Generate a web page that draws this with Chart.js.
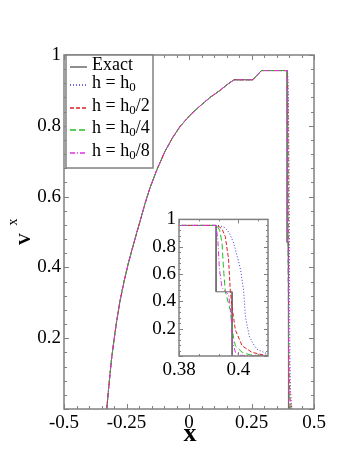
<!DOCTYPE html>
<html>
<head>
<meta charset="utf-8">
<script src="https://cdn.jsdelivr.net/npm/chart.js@4"></script>
<style>
  body { margin: 0; background: #fff; }
  #wrap { position: relative; width: 358px; height: 463px; }
  #inset { position: absolute; left: 140px; top: 205px; }
</style>
</head>
<body>
<div id="wrap">
  <canvas id="chart" width="358" height="463"></canvas>
  <canvas id="inset" width="135" height="175"></canvas>
</div>
<script>
// rarefaction fan + plateaus, shared by every run
const rareX = [-0.329, -0.32, -0.31, -0.30, -0.29, -0.276, -0.26, -0.245, -0.23, -0.215, -0.196, -0.176, -0.156, -0.126, -0.096, -0.066, -0.036, 0.004, 0.044, 0.084, 0.124, 0.152, 0.18, 0.255, 0.29, 0.3922];
const rareV = [0, 0.07, 0.14, 0.195, 0.245, 0.305, 0.36, 0.405, 0.445, 0.483, 0.53, 0.58, 0.625, 0.68, 0.728, 0.766, 0.798, 0.83, 0.856, 0.88, 0.9, 0.916, 0.93, 0.93, 0.956, 0.956];

// shock region, one pair per run
const exactX = [0.3925, 0.3925, 0.3979, 0.3979];
const exactV = [0.956, 0.47, 0.47, 0];
const h1X = [0.3935, 0.3955, 0.397, 0.3984, 0.3995, 0.4007, 0.4018, 0.4024, 0.4037, 0.405, 0.4063, 0.4097, 0.412];
const h1V = [0.955, 0.94, 0.9, 0.828, 0.74, 0.64, 0.475, 0.286, 0.145, 0.09, 0.05, 0.015, 0];
const h2X = [0.393, 0.3945, 0.3956, 0.3967, 0.3973, 0.3979, 0.399, 0.4013, 0.4046, 0.408, 0.411];
const h2V = [0.955, 0.93, 0.875, 0.71, 0.475, 0.357, 0.19, 0.074, 0.027, 0.01, 0];
const h4X = [0.3928, 0.3937, 0.3945, 0.395, 0.3956, 0.3973, 0.3981, 0.399, 0.4013, 0.404, 0.411];
const h4V = [0.955, 0.92, 0.828, 0.64, 0.475, 0.333, 0.168, 0.074, 0.027, 0.008, 0];
const h8X = [0.3925, 0.3931, 0.3936, 0.3945, 0.3967, 0.3976, 0.3979, 0.399, 0.4005, 0.411];
const h8V = [0.955, 0.85, 0.64, 0.5, 0.45, 0.31, 0.12, 0.027, 0.005, 0];

const names = ["Exact", "h = h0", "h = h0/2", "h = h0/4", "h = h0/8"];
const colors = ["#6a6a6a", "#3b3bd6", "#e02020", "#20c020", "#e030e0"];
const dashes = [[], [1, 2], [4, 2], [6, 3], [5, 2, 1, 2]];

const xTicksMain = [-0.5, -0.25, 0, 0.25, 0.5];
const xTicksInset = [0.38, 0.4];

const FONT = "Liberation Serif";

function pts(xs, vs) {
    return xs.map((x, i) => ({ x: x, y: vs[i] }));
}

const tails = [[exactX, exactV], [h1X, h1V], [h2X, h2V], [h4X, h4V], [h8X, h8V]];

// Chart.js paints index 0 last, so reverse: the finest run ends up on top
function makeDatasets() {
    return tails.map((t, i) => ({
        label: names[i],
        data: pts(rareX, rareV).concat(pts(t[0], t[1])),
        borderColor: colors[i],
        borderDash: dashes[i],
        borderWidth: 1,
        pointRadius: 0,
        fill: false,
        tension: 0
    })).reverse();
}

// frame with inward ticks on all four sides
const frameTicks = {
    id: "frameTicks",
    afterDatasetsDraw(chart, args, o) {
        const { ctx, chartArea: a, scales: { x, y } } = chart;
        ctx.save();
        ctx.strokeStyle = "#808080";
        ctx.lineWidth = 1;
        const seg = (x1, y1, x2, y2) => { ctx.beginPath(); ctx.moveTo(x1, y1); ctx.lineTo(x2, y2); ctx.stroke(); };
        const walk = (sc, step, fn) => {
            const n = Math.round((sc.max - sc.min) / step + 1e-6);
            for (let i = 0; i <= n; i++) fn(Math.round(sc.getPixelForValue(sc.min + i * step)) + 0.5);
        };
        [[o.xMinor, o.minor], [o.xMajor, o.major]].forEach(([st, len]) =>
            walk(x, st, px => { seg(px, a.bottom, px, a.bottom - len); seg(px, a.top, px, a.top + len); }));
        [[o.yMinor, o.minor], [o.yMajor, o.major]].forEach(([st, len]) =>
            walk(y, st, py => { seg(a.left, py, a.left + len, py); seg(a.right, py, a.right - len, py); }));
        ctx.lineWidth = 1.5;
        ctx.strokeRect(a.left, a.top, a.right - a.left, a.bottom - a.top);
        ctx.restore();
    }
};

// text with "h0" rendered as h + subscript 0
function richText(ctx, text, x, y, size) {
    const parts = text.split("h0");
    let cx = x;
    parts.forEach((p, i) => {
        ctx.font = size + "px '" + FONT + "'";
        ctx.fillText(p, cx, y);
        cx += ctx.measureText(p).width;
        if (i < parts.length - 1) {
            ctx.fillText("h", cx, y);
            cx += ctx.measureText("h").width;
            ctx.font = Math.round(size * 0.7) + "px '" + FONT + "'";
            ctx.fillText("0", cx, y + 5);
            cx += ctx.measureText("0").width;
        }
    });
}

const decorations = {
    id: "decorations",
    afterDatasetsDraw(chart) {
        const ctx = chart.ctx;
        ctx.save();
        // legend
        ctx.fillStyle = "#fff";
        ctx.fillRect(66, 55, 87, 113);
        ctx.strokeStyle = "#808080";
        ctx.lineWidth = 1.5;
        ctx.strokeRect(66, 55, 87, 113);
        const rowY = [65, 83, 106, 128, 151];
        names.forEach((n, i) => {
            ctx.save();
            ctx.strokeStyle = colors[i];
            ctx.lineWidth = 1.5;
            ctx.setLineDash(dashes[i]);
            ctx.beginPath();
            ctx.moveTo(70, rowY[i] + 2);
            ctx.lineTo(87, rowY[i] + 2);
            ctx.stroke();
            ctx.restore();
            ctx.fillStyle = "#000";
            ctx.textBaseline = "middle";
            ctx.textAlign = "left";
            richText(ctx, n, 92, rowY[i], 18);
        });
        // axis titles
        ctx.fillStyle = "#000";
        ctx.textAlign = "center";
        ctx.textBaseline = "middle";
        ctx.font = "bold 26px '" + FONT + "'";
        ctx.fillText("x", 190, 434);
        ctx.translate(26, 239);
        ctx.rotate(-Math.PI / 2);
        ctx.font = "bold 17px '" + FONT + "'";
        ctx.fillText("V", 0, 0);
        ctx.font = "14px '" + FONT + "'";
        ctx.fillText("x", 17, -13);
        ctx.restore();
    }
};

function fmt(v) {
    if (Math.abs(v) < 1e-9) return "";
    return String(Math.round(v * 100) / 100);
}

function axes(xmin, xmax, yW, xH, xLabels) {
    return {
        x: {
            type: "linear", min: xmin, max: xmax,
            grid: { display: false, drawTicks: false },
            border: { display: false },
            afterFit: s => { s.height = xH; },
            afterBuildTicks: s => { s.ticks = xLabels.map(v => ({ value: v })); },
            ticks: {
                padding: 3, color: "#000", font: { family: FONT, size: 19 },
                maxRotation: 0, autoSkip: false,
                callback: v => String(Math.round(v * 100) / 100)
            }
        },
        y: {
            type: "linear", min: 0, max: 1,
            grid: { display: false, drawTicks: false },
            border: { display: false },
            afterFit: s => { s.width = yW; },
            ticks: {
                stepSize: 0.2, padding: 3, color: "#000", font: { family: FONT, size: 19 },
                callback: v => fmt(v)
            }
        }
    };
}

new Chart("chart", {
    type: "line",
    data: { datasets: makeDatasets() },
    options: {
        responsive: false, animation: false,
        layout: { padding: { top: 55, right: 44, left: 0, bottom: 0 } },
        scales: axes(-0.5, 0.5, 64, 54, xTicksMain),
        plugins: {
            legend: { display: false }, tooltip: { enabled: false },
            frameTicks: { xMajor: 0.25, xMinor: 0.05, yMajor: 0.2, yMinor: 0.04, major: 5, minor: 3 }
        }
    },
    plugins: [frameTicks, decorations]
});

new Chart("inset", {
    type: "line",
    data: { datasets: makeDatasets() },
    options: {
        responsive: false, animation: false,
        layout: { padding: { top: 9, right: 7, left: 0, bottom: 0 } },
        scales: axes(0.38, 0.41, 39, 24, xTicksInset),
        plugins: {
            legend: { display: false }, tooltip: { enabled: false },
            frameTicks: { xMajor: 0.02, xMinor: 0.02 / 3, yMajor: 0.2, yMinor: 0.04, major: 4, minor: 2 }
        }
    },
    plugins: [frameTicks]
});
</script>
</body>
</html>
